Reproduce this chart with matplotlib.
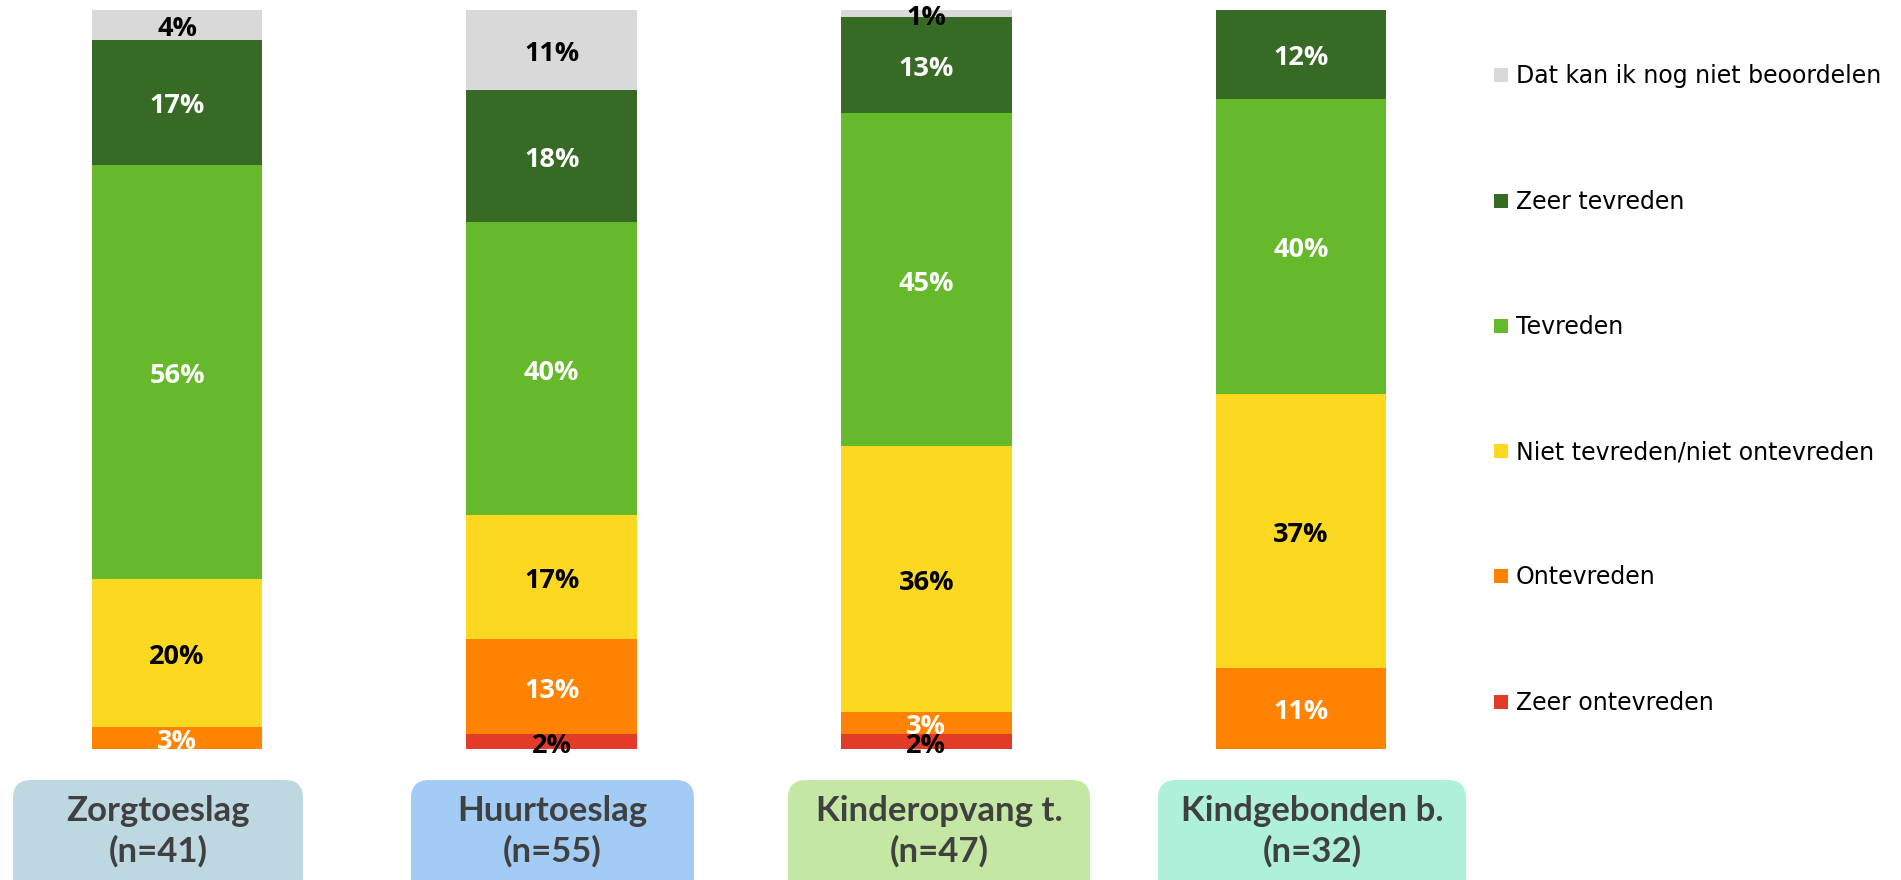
import matplotlib
matplotlib.use("Agg")
import matplotlib.pyplot as plt
from matplotlib.patches import FancyBboxPatch, Rectangle
import numpy as np

# Regelingen en aantallen respondenten
regelingen = ["Zorgtoeslag", "Huurtoeslag", "Kinderopvang t.", "Kindgebonden b."]
aantallen = [41, 55, 47, 32]

# Antwoordcategorieën, van onder naar boven gestapeld
antwoorden = [
    "Zeer ontevreden",
    "Ontevreden",
    "Niet tevreden/niet ontevreden",
    "Tevreden",
    "Zeer tevreden",
    "Dat kan ik nog niet beoordelen",
]

# Percentages per regeling
zeer_ontevreden = [0, 2, 2, 0]
ontevreden = [3, 13, 3, 11]
neutraal = [20, 17, 36, 37]
tevreden = [56, 40, 45, 40]
zeer_tevreden = [17, 18, 13, 12]
weet_niet = [4, 11, 1, 0]

kleuren = ["#E33B27", "#FF8300", "#FCD820", "#67B92C", "#376B25", "#D9D9D9"]
labelkleuren = ["black", "white", "black", "white", "white", "black"]
boxkleuren = ["#BED8E2", "#A2CBF5", "#C4E8A3", "#AEF0D9"]

reeksen = np.array([zeer_ontevreden, ontevreden, neutraal, tevreden,
                    zeer_tevreden, weet_niet], dtype=float)
totalen = reeksen.sum(axis=0)
aandelen = reeksen / totalen * 100  # 100%-gestapeld

W, H = 1901, 880
fig = plt.figure(figsize=(W / 100, H / 100), dpi=100)

# Staafdiagram
x = np.arange(len(regelingen))
ax = fig.add_axes([0, (H - 749) / H, 1488 / W, (749 - 10) / H])
onder = np.zeros(len(regelingen))
for i, naam in enumerate(antwoorden):
    ax.bar(x, aandelen[i], bottom=onder, width=0.455, color=kleuren[i],
           label=naam, linewidth=0)
    for j in range(len(regelingen)):
        if reeksen[i, j] > 0:
            ax.annotate(f"{int(reeksen[i, j])}%",
                        (x[j], onder[j] + aandelen[i, j] / 2),
                        xytext=(0, -4), textcoords="offset pixels",
                        ha="center", va="center",
                        color=labelkleuren[i], fontsize=19.5,
                        fontweight="bold",
                        family=["Open Sans", "DejaVu Sans"])
    onder += aandelen[i]
ax.set_xlim(-177 / 374.7, (1488 - 177) / 374.7)
ax.set_ylim(0, 100)
ax.axis("off")

# Overlay in pixelcoördinaten voor labels en legenda
ov = fig.add_axes([0, 0, 1, 1])
ov.set_xlim(0, W)
ov.set_ylim(H, 0)
ov.axis("off")
ov.patch.set_visible(False)

box_x = [(13, 303), (411, 694), (788, 1090), (1158, 1466)]
for (x0, x1), kleur, naam, n in zip(box_x, boxkleuren, regelingen, aantallen):
    ov.add_patch(FancyBboxPatch((x0, 780), x1 - x0, 140,
                                boxstyle="round,pad=0,rounding_size=18",
                                facecolor=kleur, edgecolor="none"))
    cx = (x0 + x1) / 2
    for tekst, yy in ((naam, 811), (f"(n={n})", 851)):
        ov.text(cx, yy, tekst, ha="center", va="center", color="#404040",
                fontsize=25, fontweight="bold",
                family=["Lato", "Open Sans", "DejaVu Sans"])

# Legenda (bovenste categorie bovenaan)
leg_y = [75, 201, 326, 451, 576, 702]
for yy, naam, kleur in zip(leg_y, antwoorden[::-1], kleuren[::-1]):
    ov.add_patch(Rectangle((1494, yy - 7), 14, 14, facecolor=kleur,
                           edgecolor="none"))
    ov.text(1516, yy + 1, naam, ha="left", va="center", color="black",
            fontsize=17, family=["DejaVu Sans"])

fig.savefig("out.png", dpi=100)
